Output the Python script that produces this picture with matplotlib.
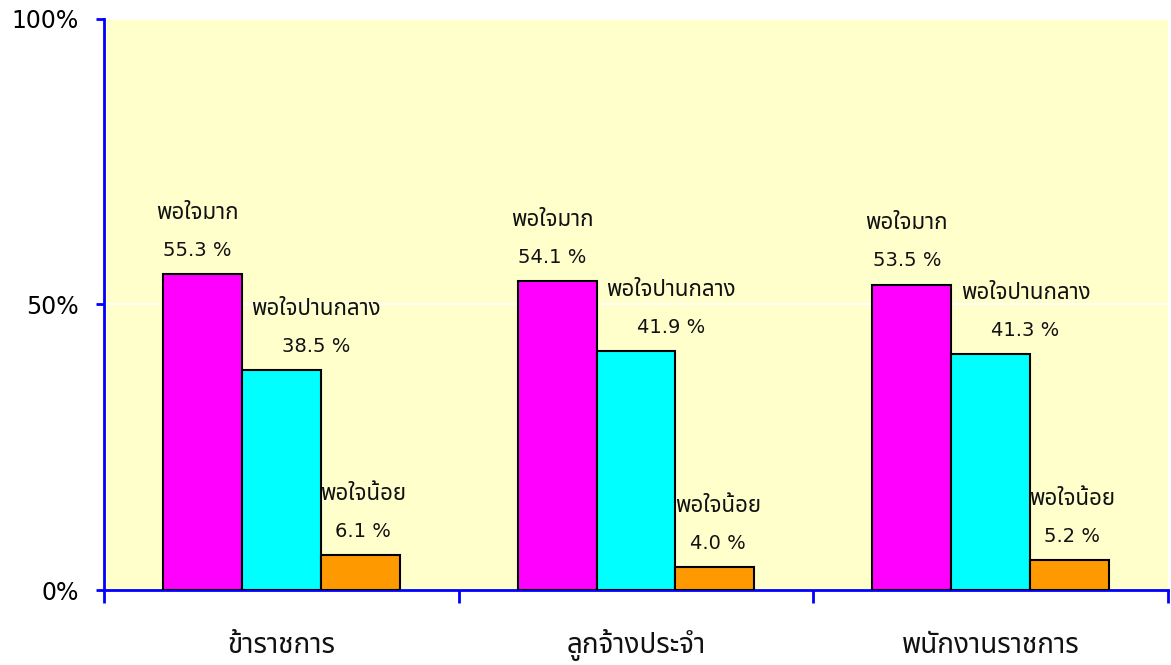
import matplotlib
matplotlib.use("Agg")
import matplotlib.pyplot as plt
import numpy as np

FAM = ['DejaVu Sans', 'Tahoma', 'Noto Sans Thai', 'Sarabun', 'IBM Plex Sans Thai Looped']
plt.rcParams['font.family'] = FAM

categories = ['ข้าราชการ', 'ลูกจ้างประจำ', 'พนักงานราชการ']
series_names = ['พอใจมาก', 'พอใจปานกลาง', 'พอใจน้อย']
very_satisfied = [55.3, 54.1, 53.5]
moderately_satisfied = [38.5, 41.9, 41.3]
less_satisfied = [6.1, 4.0, 5.2]
yticks = [0, 50, 100]
ytick_labels = ['0%', '50%', '100%']

series_values = [very_satisfied, moderately_satisfied, less_satisfied]
colors = ['#FF00FF', '#00FFFF', '#FF9900']
label_xoff = [-3.6, 25, 2]  # points

W, H = 1171, 665
fig = plt.figure(figsize=(W / 100, H / 100), dpi=100)
ax = fig.add_axes([104 / W, 1 - 590 / H, (1168 - 104) / W, (590 - 19) / H])
ax.set_facecolor('#FFFFCC')

x = np.arange(len(categories))
bw = 0.2225
for i, (name, vals, c) in enumerate(zip(series_names, series_values, colors)):
    xs = x + (i - 1) * bw
    ax.bar(xs, vals, width=bw, color=c, edgecolor='black', linewidth=1.5, zorder=3)
    for xi, v in zip(xs, vals):
        ax.annotate('%.1f %%' % v, (xi, v), xytext=(label_xoff[i], 17),
                    textcoords='offset points', ha='center', va='center',
                    fontsize=14, color='#111111', zorder=4)
        ax.annotate(name, (xi, v), xytext=(label_xoff[i], 44),
                    textcoords='offset points', ha='center', va='center',
                    fontsize=16, fontweight='bold', color='#111111', zorder=4)

ax.set_xlim(-0.5, len(categories) - 0.5)
ax.set_ylim(0, 100)
ax.set_yticks(yticks)
ax.set_yticklabels(ytick_labels, fontsize=17)
ax.yaxis.grid(True, color='white', linewidth=1.2, zorder=0)
ax.set_axisbelow(True)

ax.set_xticks(np.arange(len(categories) + 1) - 0.5)
ax.set_xticklabels([])
for xi, cat in zip(x, categories):
    ax.text(xi, -55 / 571, cat, transform=ax.get_xaxis_transform(),
            ha='center', va='center', fontsize=20, fontweight='bold', color='#111111')
ax.tick_params(axis='x', which='major', direction='out', length=9, width=2, color='#0000FF')
ax.tick_params(axis='y', direction='out', length=6, width=2, color='#0000FF', pad=12)

for s in ['top', 'right']:
    ax.spines[s].set_visible(False)
for s in ['left', 'bottom']:
    ax.spines[s].set_color('#0000FF')
    ax.spines[s].set_linewidth(2)

fig.savefig('out.png', dpi=100)
